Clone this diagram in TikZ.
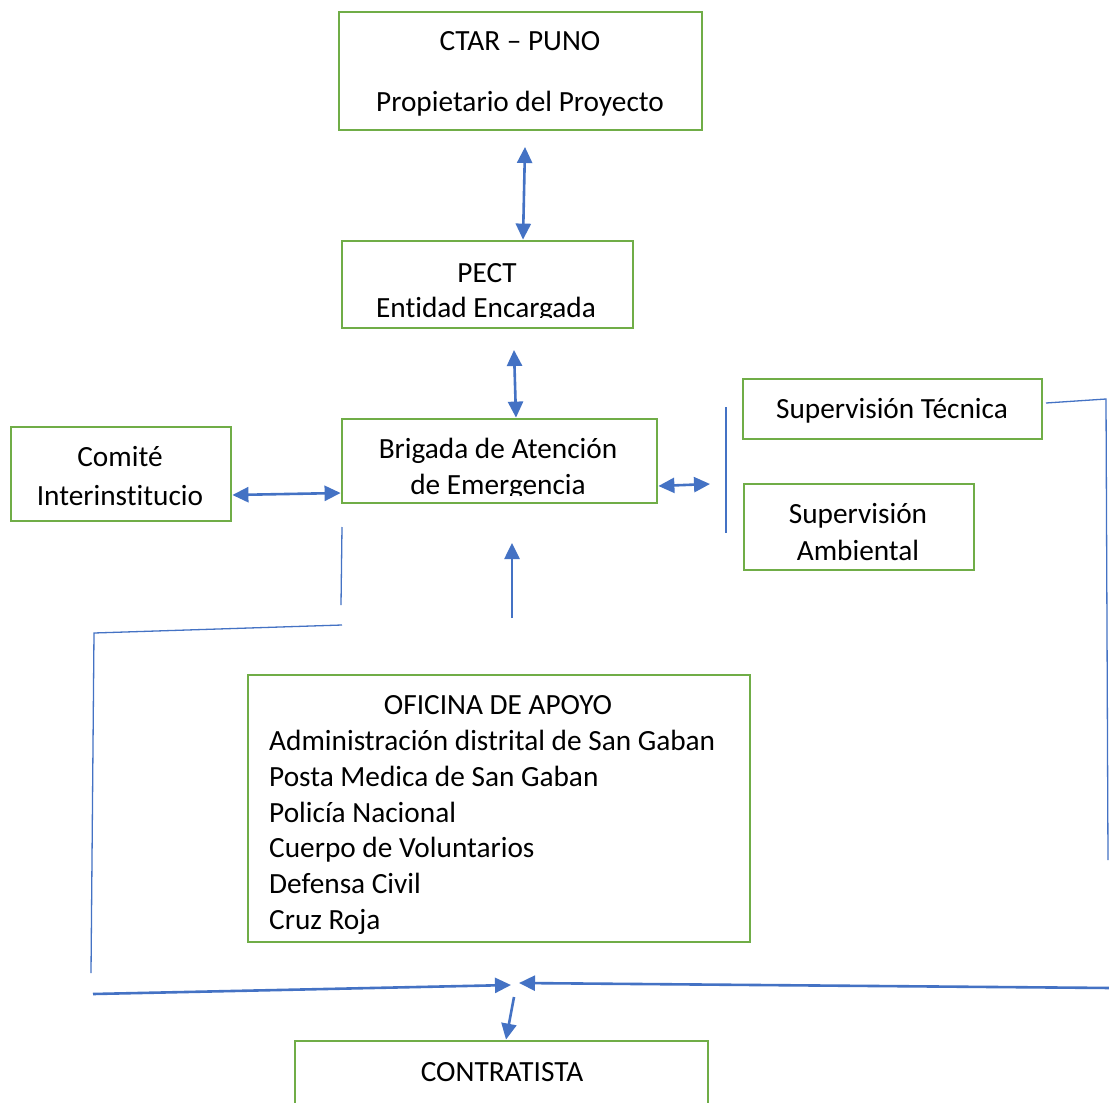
\documentclass[tikz,border=0pt]{standalone}
\usepackage{fontspec}
\setmainfont[Ligatures={NoCommon}]{Carlito}
\usetikzlibrary{arrows.meta}
\definecolor{bxgreen}{HTML}{70AD47}
\definecolor{lnblue}{HTML}{4472C4}
\begin{document}
\begin{tikzpicture}[x=1pt,y=-1pt,
  box/.style={draw=bxgreen, line width=2.8pt, inner sep=0pt, fill=none},
  txt/.style={anchor=base, inner sep=0pt, font=\fontsize{29.3}{36}\selectfont},
  ltxt/.style={txt, anchor=base west},
  arr/.style={draw=lnblue, line width=2.6pt, -{Triangle[length=16pt,width=15pt]}},
  darr/.style={draw=lnblue, line width=2.6pt, {Triangle[length=16pt,width=15pt]}-{Triangle[length=16pt,width=15pt]}},
  thin/.style={draw=lnblue, line width=1.3pt}]
\useasboundingbox (0,0) rectangle (1109,1103);
\clip (0,0) rectangle (1109,1103);
\fill[white] (0,0) rectangle (1109,1103);

% boxes
\node[box, minimum width=363pt, minimum height=118pt] (ctar) at (520.5,71) {};
\node[box, minimum width=291pt, minimum height=87pt] (pect) at (487.5,284.5) {};
\node[box, minimum width=315pt, minimum height=84pt] (brig) at (499.5,461) {};
\node[box, minimum width=220pt, minimum height=94pt] (comite) at (121,474) {};
\node[box, minimum width=299pt, minimum height=60pt] (suptec) at (892.5,409) {};
\node[box, minimum width=230pt, minimum height=86pt] (supamb) at (859,527) {};
\node[box, minimum width=502pt, minimum height=267pt] (ofi) at (499,808.5) {};
\node[box, minimum width=413pt, minimum height=89pt] (contra) at (501.5,1085.5) {};

% texts
\node[txt] (ctar1) at (520,50) {CTAR – PUNO};
\node[txt] (ctar2) at (520,111) {Propietario del Proyecto};
\begin{scope}
  \clip (342,241) rectangle (633,317);
  \node[txt] (pect1) at (487,282) {PECT};
  \node[txt] (pect2) at (486,317) {Entidad Encargada};
\end{scope}
\begin{scope}
  \clip (342,419) rectangle (657,495);
  \node[txt] (brig1) at (498,458) {Brigada de Atención};
  \node[txt] (brig2) at (498,494) {de Emergencia};
\end{scope}
\node[txt] (com1) at (120,466) {Comité};
\node[txt] (com2) at (120,505) {Interinstitucio};
\node[txt] (st1) at (892,418) {Supervisión Técnica};
\begin{scope}
  \clip (744,484) rectangle (974,560);
  \node[txt] (sa1) at (858,523) {Supervisión};
  \node[txt] (sa2) at (858,560) {Ambiental};
\end{scope}
\node[txt] (of0) at (498,714) {OFICINA DE APOYO};
\node[ltxt] (of1) at (269,750) {Administración distrital de San Gaban};
\node[ltxt] (of2) at (269,786) {Posta Medica de San Gaban};
\node[ltxt] (of3) at (269,822) {Policía Nacional};
\node[ltxt] (of4) at (269,857) {Cuerpo de Voluntarios};
\node[ltxt] (of5) at (269,893) {Defensa Civil};
\node[ltxt] (of6) at (269,929) {Cruz Roja};
\node[txt] (con1) at (502,1081) {CONTRATISTA};

% free-end coordinates
\coordinate (p1) at (525,147);
\coordinate (p2) at (514,350);
\coordinate (p3) at (710,484);
\coordinate (v1) at (726,407);
\coordinate (v2) at (726,533);
\coordinate (u1) at (512,618);
\coordinate (u2) at (512,543);
\coordinate (l1) at (342,527);
\coordinate (l2) at (341,605);
\coordinate (l3) at (342,625);
\coordinate (l4) at (94,633);
\coordinate (l5) at (91,973);
\coordinate (b1) at (93,994);
\coordinate (b2) at (511,985);
\coordinate (r1) at (1046,403);
\coordinate (r2) at (1106,399);
\coordinate (r3) at (1108,860);
\coordinate (b3) at (1112,988);
\coordinate (b4) at (519,983);
\coordinate (b5) at (514,997);

% connectors
\draw[darr] (p1) -- ([xshift=35.5pt]pect.north);
\draw[darr] (p2) -- ([xshift=16.5pt]brig.north);
\draw[darr] ([yshift=-21pt]comite.east) -- ([yshift=-32pt]brig.west);
\draw[darr] ([yshift=-25pt]brig.east) -- (p3);
\draw[thin] (v1) -- (v2);
\draw[arr] (u1) -- (u2);
\draw[thin] (l1) -- (l2);
\draw[thin] (l3) -- (l4) -- (l5);
\draw[arr] (b1) -- (b2);
\draw[thin] (r1) -- (r2) -- (r3);
\draw[arr] (b3) -- (b4);
\draw[arr] (b5) -- ([xshift=4.5pt]contra.north);
\end{tikzpicture}
\end{document}
